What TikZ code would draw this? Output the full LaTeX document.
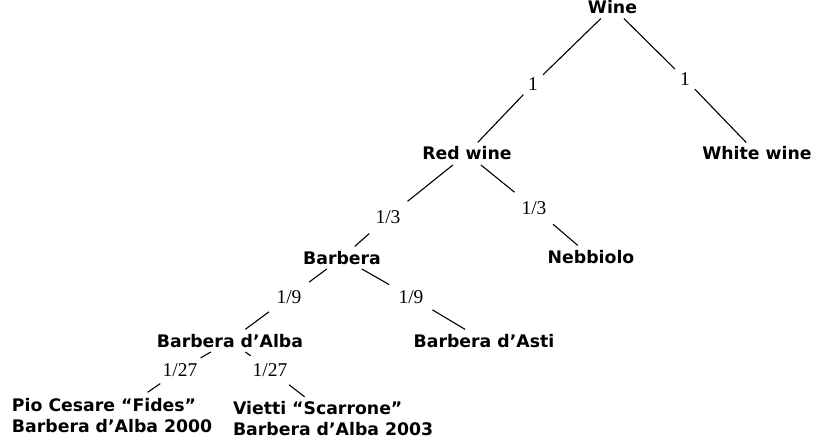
\documentclass[tikz,border=0pt]{standalone}
\usepackage{fontspec}
\newfontfamily\nodefont{DejaVu Sans}
\newfontfamily\labfont{Liberation Serif}
\begin{document}
\begin{tikzpicture}[x=1pt,y=-1pt,
  tn/.style={font=\nodefont\bfseries\fontsize{17.3}{21}\selectfont, inner sep=0pt, outer sep=5pt, text height=12.6pt, text depth=0pt, anchor=base},
  leaf/.style={font=\nodefont\bfseries\fontsize{17.3}{21}\selectfont, inner sep=0pt, outer sep=0pt, anchor=base west},
  lbn/.style={font=\labfont\fontsize{19.5}{22}\selectfont, circle, inner sep=0pt, outer sep=6pt},
  lbw/.style={font=\labfont\fontsize{19.5}{22}\selectfont, circle, inner sep=0pt, outer sep=11pt},
  lbx/.style={font=\labfont\fontsize{19.5}{22}\selectfont, circle, inner sep=0pt, outer sep=5.5pt},
  ed/.style={line width=1.1pt, black}]
\useasboundingbox (0,0) rectangle (815,444);
% nodes
\node[tn] (wine) at (612.5,13.5) {Wine};
\node[tn] (red) at (467,160) {Red wine};
\node[tn] (white) at (757,160) {White wine};
\node[tn] (barbera) at (342,264) {Barbera};
\node[tn] (nebb) at (591,263) {Nebbiolo};
\node[tn] (alba) at (230,347) {Barbera d’Alba};
\node[tn] (asti) at (484,347) {Barbera d’Asti};
\node[leaf] (pio) at (12,411) {\begin{tabular}[t]{@{}l@{}}Pio Cesare “Fides”\\Barbera d’Alba 2000\end{tabular}};
\node[leaf] (vietti) at (233,414) {\begin{tabular}[t]{@{}l@{}}Vietti “Scarrone”\\Barbera d’Alba 2003\end{tabular}};
% labels
\node[lbn] (l1) at (533,84.5) {1};
\node[lbn] (l2) at (685,79) {1};
\node[lbw] (l3) at (388,217) {1/3};
\node[lbw] (l4) at (534,208) {1/3};
\node[lbw] (l5) at (289,297) {1/9};
\node[lbw] (l6) at (411,297) {1/9};
\node[lbx] (l7) at (180,370) {1/27};
\node[lbx] (l8) at (270,370) {1/27};
% edges
\draw[ed] (wine) -- (l1);
\draw[ed] (l1) -- (red);
\draw[ed] (wine) -- (l2);
\draw[ed] (l2) -- (white);
\draw[ed] (red) -- (l3);
\draw[ed] (l3) -- (barbera);
\draw[ed] (red) -- (l4);
\draw[ed] (l4) -- (nebb);
\draw[ed] (barbera) -- (l5);
\draw[ed] (l5) -- (alba);
\draw[ed] (barbera) -- (l6);
\draw[ed] (l6) -- (asti);
\draw[ed] (alba) -- (l7);
\draw[ed] (l7) -- ([xshift=35.5pt,yshift=4pt]pio.north);
\draw[ed] (alba) -- (l8);
\draw[ed] (l8) -- ([xshift=-28.5pt,yshift=2.5pt]vietti.north);
\end{tikzpicture}
\end{document}
